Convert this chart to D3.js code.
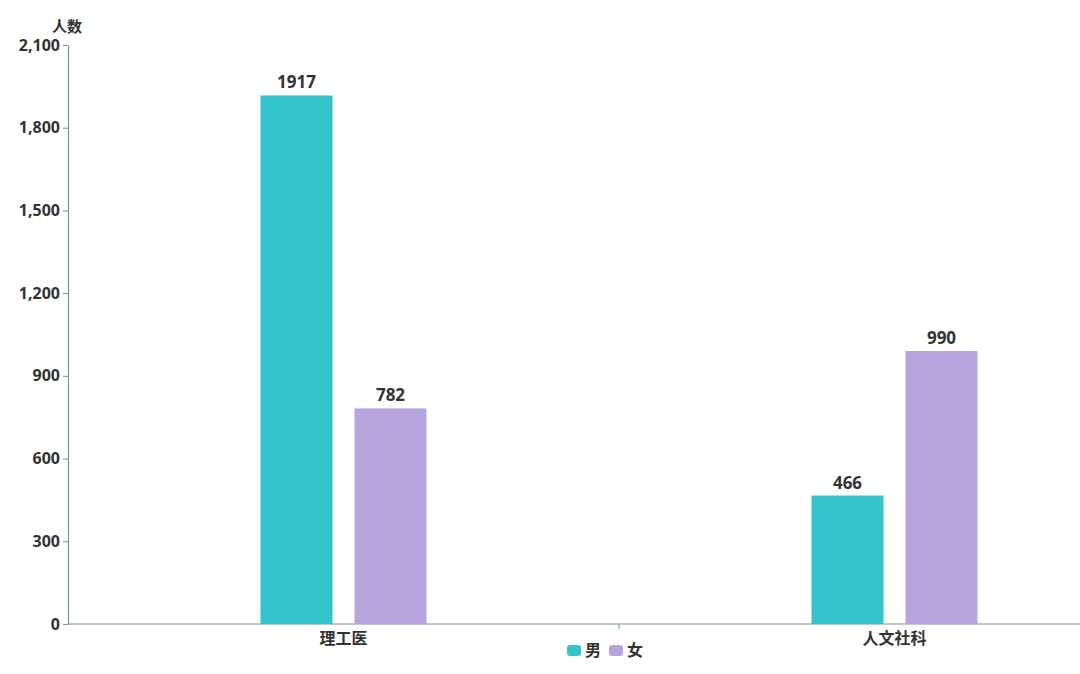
<!DOCTYPE html>
<html>
<head>
<meta charset="utf-8">
<script src="https://cdn.jsdelivr.net/npm/d3@7"></script>
<style>
  body { margin: 0; background: #fff; }
  svg { display: block; font-family: "Noto Sans CJK SC", "Open Sans", sans-serif; }
</style>
</head>
<body>
<svg id="chart" width="1080" height="674"></svg>
<script>
var categories = ["理工医", "人文社科"];
var seriesNames = ["男", "女"];
var maleValues = [1917, 466];
var femaleValues = [782, 990];
var yTicks = [0, 300, 600, 900, 1200, 1500, 1800, 2100];

var colors = { "男": "#33c4c9", "女": "#b5a5dc" };
var axisColor = "#6f9a9a";

var svg = d3.select("#chart");
var plotLeft = 68, plotRight = 1170, plotTop = 45, plotBottom = 624;

var x = d3.scaleBand().domain(categories).range([plotLeft, plotRight]).paddingInner(0).paddingOuter(0);
var bw = x.bandwidth();
var x1 = d3.scaleBand().domain(seriesNames)
  .range([bw / 2 - 83, bw / 2 + 83]).paddingInner(0.234).paddingOuter(0);
var y = d3.scaleLinear().domain([0, 2100]).range([plotBottom, plotTop]);

// build rows from the arrays
var rows = categories.map(function (c, i) {
  return [
    { cat: c, name: "男", value: maleValues[i] },
    { cat: c, name: "女", value: femaleValues[i] }
  ];
});

// y axis
var yAxis = svg.append("g").attr("transform", "translate(" + plotLeft + ",0)")
  .call(d3.axisLeft(y).tickValues(yTicks).tickSize(5).tickSizeOuter(0).tickPadding(3).tickFormat(d3.format(",")));
yAxis.select(".domain").attr("stroke", axisColor).attr("stroke-width", 1.2);
yAxis.selectAll(".tick line").attr("stroke", axisColor);
yAxis.selectAll("text")
  .attr("fill", "#333").style("font-size", "16px").style("font-weight", "bold")
  .style("font-family", "'Open Sans', 'Noto Sans CJK SC', sans-serif");

// x axis
var xAxis = svg.append("g").attr("transform", "translate(0," + plotBottom + ")");
xAxis.append("line").attr("x1", plotLeft).attr("x2", 1080).attr("y1", 0).attr("y2", 0)
  .attr("stroke", axisColor).attr("stroke-width", 1.2);
xAxis.selectAll("line.tk").data(categories.slice(1)).enter().append("line")
  .attr("class", "tk")
  .attr("x1", function (d) { return x(d); }).attr("x2", function (d) { return x(d); })
  .attr("y1", 0).attr("y2", 5).attr("stroke", axisColor);
xAxis.selectAll("text").data(categories).enter().append("text")
  .attr("x", function (d) { return x(d) + bw / 2; })
  .attr("y", 20)
  .attr("text-anchor", "middle")
  .attr("fill", "#333").style("font-size", "16px").style("font-weight", "bold")
  .text(function (d) { return d; });

// axis name
svg.append("text").attr("x", 52).attr("y", 32)
  .attr("fill", "#333").style("font-size", "15px").style("font-weight", "bold")
  .text("人数");

// bars
var groups = svg.selectAll("g.cat").data(rows).enter().append("g")
  .attr("class", "cat")
  .attr("transform", function (d) { return "translate(" + x(d[0].cat) + ",0)"; });

groups.selectAll("rect").data(function (d) { return d; }).enter().append("rect")
  .attr("x", function (d) { return x1(d.name); })
  .attr("y", function (d) { return y(d.value); })
  .attr("width", x1.bandwidth())
  .attr("height", function (d) { return plotBottom - y(d.value); })
  .attr("fill", function (d) { return colors[d.name]; });

groups.selectAll("text").data(function (d) { return d; }).enter().append("text")
  .attr("x", function (d) { return x1(d.name) + x1.bandwidth() / 2; })
  .attr("y", function (d) { return y(d.value) - 7; })
  .attr("text-anchor", "middle")
  .attr("fill", "#333").style("font-size", "17px").style("font-weight", "bold")
  .style("font-family", "'Open Sans', 'Noto Sans CJK SC', sans-serif")
  .text(function (d) { return d.value; });

// legend
var legend = svg.append("g").attr("transform", "translate(567,645)");
var lg = legend.selectAll("g").data(seriesNames).enter().append("g")
  .attr("transform", function (d, i) { return "translate(" + (i * 42) + ",0)"; });
lg.append("rect").attr("width", 14).attr("height", 11).attr("rx", 3)
  .attr("fill", function (d) { return colors[d]; });
lg.append("text").attr("x", 18).attr("y", 11)
  .attr("fill", "#333").style("font-size", "16px").style("font-weight", "bold")
  .text(function (d) { return d; });
</script>
</body>
</html>
